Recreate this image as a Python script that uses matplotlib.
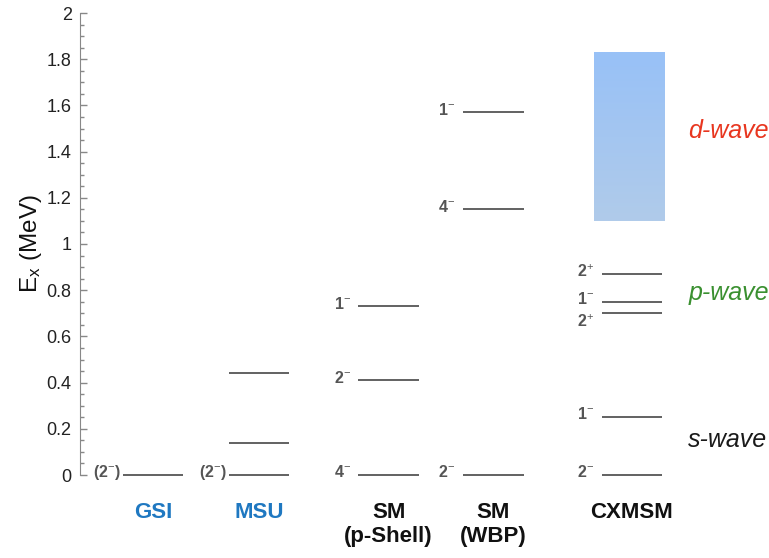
import matplotlib
matplotlib.use('Agg')
import numpy as np
import matplotlib.pyplot as plt
from matplotlib.colors import LinearSegmentedColormap

plt.rcParams['font.family'] = ['Liberation Sans', 'DejaVu Sans']
plt.rcParams['mathtext.fontset'] = 'custom'
plt.rcParams['mathtext.rm'] = 'Liberation Sans'
plt.rcParams['mathtext.bf'] = 'Liberation Sans:bold'
plt.rcParams['mathtext.it'] = 'Liberation Sans:italic'

# level schemes (energies in MeV) and spin-parity of each level
groups = ['GSI', 'MSU', 'SM\n(p-Shell)', 'SM\n(WBP)', 'CXMSM']
group_colors = ['#1f78c1', '#1f78c1', '#111111', '#111111', '#111111']

gsi_levels = [0.0]
gsi_spins = ['(2$^{-}$)']
msu_levels = [0.0, 0.14, 0.44]
msu_spins = ['(2$^{-}$)', '', '']
smp_levels = [0.0, 0.41, 0.73]
smp_spins = ['4$^{-}$', '2$^{-}$', '1$^{-}$']
wbp_levels = [0.0, 1.15, 1.57]
wbp_spins = ['2$^{-}$', '4$^{-}$', '1$^{-}$']
cx_levels = [0.0, 0.25, 0.70, 0.75, 0.87]
cx_spins = ['2$^{-}$', '1$^{-}$', '2$^{+}$', '1$^{-}$', '2$^{+}$']

continuum = [1.10, 1.83]     # CXMSM continuum band
waves = ['d-wave', 'p-wave', 's-wave']
wave_energy = [1.49, 0.79, 0.15]
wave_colors = ['#e8361f', '#3a9030', '#1a1a1a']

all_levels = [gsi_levels, msu_levels, smp_levels, wbp_levels, cx_levels]
all_spins = [gsi_spins, msu_spins, smp_spins, wbp_spins, cx_spins]

xpos = [1.06, 2.6, 4.48, 6.0, 8.01]     # column centres
hw = 0.44                               # half width of a level line
label_nudge = {(4, 2): -0.035, (4, 3): 0.01}   # keep crowded labels apart

fig = plt.figure(figsize=(7.69, 5.58), dpi=100)
ax = fig.add_axes([80/769, 83/558, 689/769, 462/558])

for i in range(len(groups)):
    x = xpos[i]
    for j, (e, s) in enumerate(zip(all_levels[i], all_spins[i])):
        ax.plot([x - hw, x + hw], [e, e], color='#555555', lw=1.3,
                solid_capstyle='butt', clip_on=False)
        if s:
            gap = 0.03 if s.startswith('(') else 0.11
            dy = label_nudge.get((i, j), 0.012)
            ax.text(x - hw - gap, e + dy, s, ha='right', va='center',
                    fontsize=11.5, fontweight='bold', color='#555555')
    ax.text(x, -0.115, groups[i], ha='center', va='top', fontsize=16,
            fontweight='bold', color=group_colors[i], linespacing=1.2,
            clip_on=False)

# continuum band, darker blue on top
cmap = LinearSegmentedColormap.from_list('band', ['#b0cbea', '#98c1f7'])
grad = np.linspace(0, 1, 100).reshape(-1, 1)
ax.imshow(grad, extent=[7.46, 8.48, continuum[0], continuum[1]],
          origin='lower', cmap=cmap, aspect='auto', zorder=0)

for w, e, c in zip(waves, wave_energy, wave_colors):
    ax.text(8.83, e, w, ha='left', va='center', fontsize=18,
            style='italic', color=c, clip_on=False)

ax.set_xlim(0, 10)
ax.set_ylim(0, 2)
ax.set_yticks(np.arange(0, 2.01, 0.2))
ax.set_yticklabels(['0', '0.2', '0.4', '0.6', '0.8', '1',
                    '1.2', '1.4', '1.6', '1.8', '2'])
ax.set_yticks(np.arange(0, 2.001, 0.05), minor=True)
ax.tick_params(axis='y', which='major', direction='in', length=5,
               width=1, color='#888888', labelsize=13, pad=6,
               labelcolor='#222222')
ax.tick_params(axis='y', which='minor', direction='in', length=3,
               width=1, color='#888888')
ax.set_xticks([])
for side in ['top', 'right', 'bottom']:
    ax.spines[side].set_visible(False)
ax.spines['left'].set_color('#888888')
ax.set_ylabel('E$_{\\mathrm{x}}$ (MeV)', fontsize=17.5, color='#111111',
              labelpad=2)
ax.patch.set_alpha(0)

plt.savefig('out.png', dpi=100)
